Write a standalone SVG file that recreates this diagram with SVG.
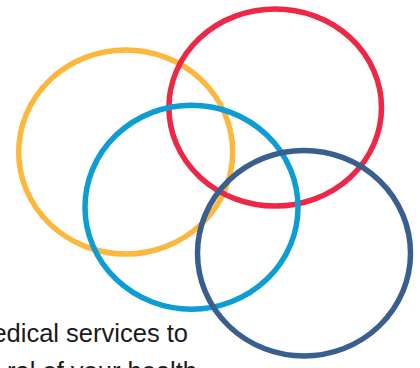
<svg xmlns="http://www.w3.org/2000/svg" width="420" height="368" viewBox="0 0 420 368">
<style>
.ring{fill:none;stroke-width:5.5}
.t{font-family:"Liberation Sans",Arial,sans-serif;font-size:25.5px;fill:#1a1a1a;text-anchor:end}
</style>
<rect width="420" height="368" fill="#ffffff"/>
<g id="text">
<text class="t" x="188" y="341.5">edical services to</text>
<text class="t" x="197" y="380">ral of your health</text>
</g>
<g id="orange"><ellipse class="ring" cx="125.7" cy="152" rx="107" ry="102" stroke="#FDB73C"/></g>
<g id="red"><ellipse class="ring" cx="275.2" cy="107.5" rx="106.3" ry="98.5" stroke="#EE2746"/></g>
<g id="blue"><ellipse class="ring" cx="191.5" cy="207.2" rx="106.5" ry="102" stroke="#0C9DD5"/></g>
<g id="darkblue"><ellipse class="ring" cx="304" cy="253.2" rx="106.5" ry="102.8" stroke="#385F8E"/></g>
<g id="connectors"/>
</svg>
